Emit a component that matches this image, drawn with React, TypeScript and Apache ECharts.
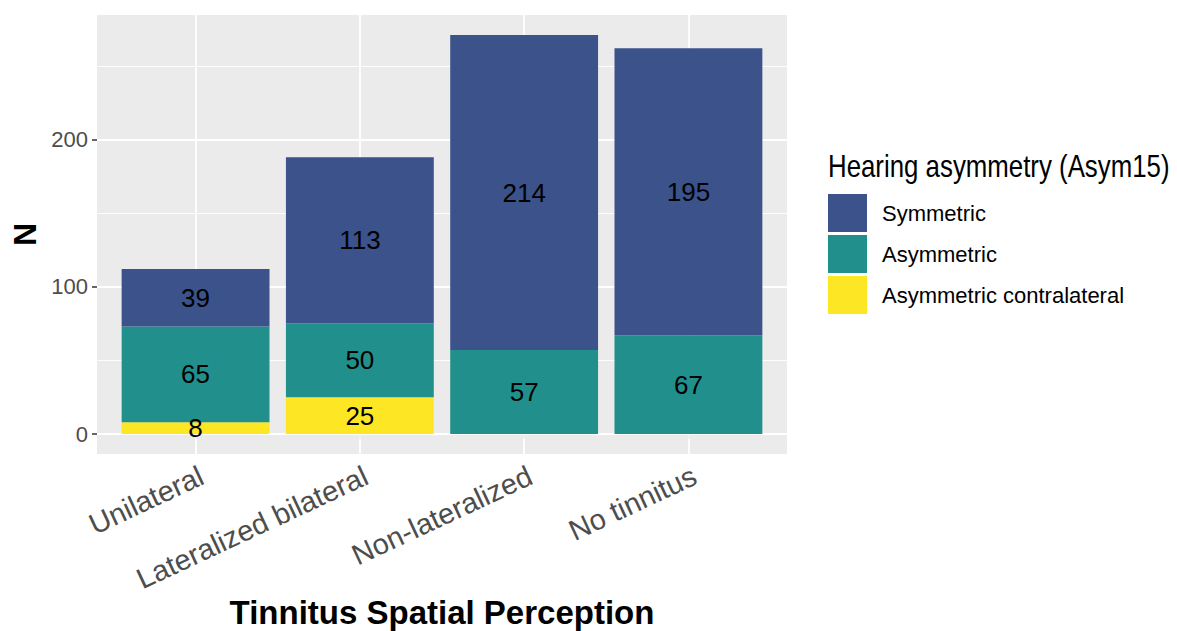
import React, { useEffect, useRef } from "react";
import * as echarts from "echarts";

const categories = ["Unilateral", "Lateralized bilateral", "Non-lateralized", "No tinnitus"];
const symmetric = [39, 113, 214, 195];
const asymmetric = [65, 50, 57, 67];
const contralateral: (number | null)[] = [8, 25, null, null];
const yMajorTicks = [0, 100, 200];
const yMinorTicks = [50, 150, 250];

const seriesNames = ["Symmetric", "Asymmetric", "Asymmetric contralateral"];
const colors = ["#3B528B", "#21908C", "#FDE725"];

const FONT = "'Liberation Sans', Arial, Helvetica, sans-serif";

// panel layout (pixels)
const PANEL_LEFT = 97;
const PANEL_TOP = 15;
const PANEL_W = 690;
const PANEL_H = 439;
// ggplot discrete expansion: categories 1..n shown over [0.4, n + 0.6]
const X_EXPAND = 0.6;

export default function App() {
  const ref = useRef<HTMLDivElement>(null);
  useEffect(() => {
    if (!ref.current) return;
    const chart = echarts.init(ref.current, undefined, { renderer: "svg" });
    const n = categories.length;
    const totals = categories.map(
      (_, i) => symmetric[i] + asymmetric[i] + (contralateral[i] ?? 0)
    );
    const maxTotal = Math.max(...totals);
    const pad = maxTotal * 0.05;
    const yMin = -pad;
    const yMax = maxTotal + pad;

    const band = PANEL_W / (n - 1 + 2 * X_EXPAND);
    const catLeft = PANEL_LEFT + (X_EXPAND - 0.5) * band;
    const catWidth = n * band;

    const labelCfg = {
      show: true,
      position: "inside" as const,
      color: "#000",
      fontSize: 26,
      fontFamily: FONT,
      textBorderWidth: 0,
      formatter: (p: any) => (p.value == null ? "" : String(p.value)),
    };

    chart.setOption({
      animation: false,
      grid: [
        {
          left: catLeft,
          top: PANEL_TOP,
          width: catWidth,
          height: PANEL_H,
          show: false,
          containLabel: false,
          outerBoundsMode: "none",
        },
        {
          left: PANEL_LEFT,
          top: PANEL_TOP,
          width: PANEL_W,
          height: PANEL_H,
          show: true,
          backgroundColor: "#EBEBEB",
          borderWidth: 0,
          containLabel: false,
          outerBoundsMode: "none",
        },
      ],
      legend: {
        orient: "vertical",
        left: 828,
        top: 194,
        padding: 0,
        itemWidth: 39,
        itemHeight: 38,
        itemGap: 3,
        icon: "rect",
        data: seriesNames,
        textStyle: {
          fontSize: 22,
          fontFamily: FONT,
          color: "#000",
          padding: [0, 0, 0, 10],
        },
      },
      graphic: [
        {
          type: "text",
          x: 828,
          y: 150,
          scaleX: 0.82,
          style: {
            text: "Hearing asymmetry (Asym15)",
            fontSize: 31.5,
            fontFamily: FONT,
            fill: "#000",
          },
        },
      ],
      xAxis: [
        {
          type: "category",
          gridIndex: 0,
          data: categories,
          boundaryGap: true,
          name: "Tinnitus Spatial Perception",
          nameLocation: "middle",
          nameGap: 142,
          nameMoveOverlap: false,
          nameTextStyle: {
            fontSize: 33,
            fontWeight: "bold",
            fontFamily: FONT,
            color: "#000",
          },
          axisLine: { show: false },
          splitLine: { show: false },
          axisTick: {
            show: true,
            alignWithLabel: true,
            interval: 0,
            length: 5,
            lineStyle: { color: "#333", width: 1.5 },
          },
          axisLabel: {
            interval: 0,
            rotate: 25,
            align: "right",
            verticalAlign: "top",
            margin: 7,
            fontSize: 29,
            fontFamily: FONT,
            color: "#4D4D4D",
          },
        },
        {
          type: "value",
          gridIndex: 1,
          min: 0,
          max: 1,
          show: false,
        },
      ],
      yAxis: [
        {
          type: "value",
          gridIndex: 0,
          min: yMin,
          max: yMax,
          show: false,
        },
        {
          type: "value",
          gridIndex: 1,
          min: yMin,
          max: yMax,
          name: "N",
          nameLocation: "middle",
          nameRotate: 90,
          nameGap: 56,
          nameMoveOverlap: false,
          nameTextStyle: {
            fontSize: 32,
            fontWeight: "bold",
            fontFamily: FONT,
            color: "#000",
          },
          axisLine: { show: false },
          splitLine: { show: false },
          axisTick: {
            show: true,
            customValues: yMajorTicks,
            length: 5,
            lineStyle: { color: "#333", width: 1.5 },
          },
          axisLabel: {
            customValues: yMajorTicks,
            margin: 9,
            fontSize: 22,
            fontFamily: FONT,
            color: "#4D4D4D",
          },
        },
      ],
      series: [
        {
          name: "grid-lines",
          type: "line",
          xAxisIndex: 1,
          yAxisIndex: 1,
          data: [],
          silent: true,
          z: 1,
          markLine: {
            silent: true,
            z: 1,
            symbol: ["none", "none"],
            label: { show: false },
            lineStyle: { color: "#FFFFFF", type: "solid" },
            emphasis: { disabled: true },
            data: [
              ...yMajorTicks.map((v) => ({ yAxis: v, lineStyle: { width: 1.8 } })),
              ...yMinorTicks.map((v) => ({ yAxis: v, lineStyle: { width: 0.9 } })),
            ],
          },
        },
        {
          name: seriesNames[2],
          type: "bar",
          stack: "total",
          xAxisIndex: 0,
          yAxisIndex: 0,
          barWidth: "90%",
          itemStyle: { color: colors[2] },
          data: contralateral,
          label: labelCfg,
          z: 2,
          markLine: {
            silent: true,
            z: 1,
            symbol: ["none", "none"],
            label: { show: false },
            lineStyle: { color: "#FFFFFF", type: "solid", width: 1.8 },
            emphasis: { disabled: true },
            data: categories.map((c) => ({ xAxis: c })),
          },
        },
        {
          name: seriesNames[1],
          type: "bar",
          stack: "total",
          xAxisIndex: 0,
          yAxisIndex: 0,
          barWidth: "90%",
          itemStyle: { color: colors[1] },
          data: asymmetric,
          label: labelCfg,
          z: 2,
        },
        {
          name: seriesNames[0],
          type: "bar",
          stack: "total",
          xAxisIndex: 0,
          yAxisIndex: 0,
          barWidth: "90%",
          itemStyle: { color: colors[0] },
          data: symmetric,
          label: labelCfg,
          z: 2,
        },
      ],
    });
    return () => chart.dispose();
  }, []);
  return (
    <div
      ref={ref}
      style={{ position: "fixed", left: 0, top: 0, width: 1177, height: 631, background: "#fff" }}
    />
  );
}
